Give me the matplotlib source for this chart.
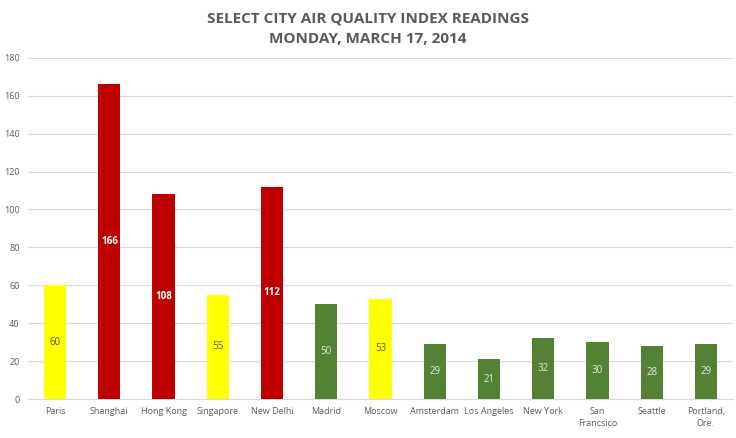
import matplotlib.pyplot as plt
import numpy as np

# ── Data ──────────────────────────────────────────────────────────────
cities = ["Paris", "Shanghai", "Hong Kong", "Singapore", "New Delhi", "Madrid",
          "Moscow", "Amsterdam", "Los Angeles", "New York", "San\nFrancsico",
          "Seattle", "Portland,\nOre."]
aqi = [60, 166, 108, 55, 112, 50, 53, 29, 21, 32, 30, 28, 29]
level = ["mod", "bad", "bad", "mod", "bad", "good", "mod",
         "good", "good", "good", "good", "good", "good"]

# ── Style ─────────────────────────────────────────────────────────────
C_BAR = {"good": "#548235", "mod": "#FFFF00", "bad": "#C00000"}
C_LBL = {"good": "#E8E8E8", "mod": "#595959", "bad": "white"}
C_TEXT = "#595959"
C_GRID = "#D9D9D9"
plt.rcParams["font.family"] = ["Open Sans", "DejaVu Sans"]

fig = plt.figure(figsize=(7.36, 4.38), dpi=100)
ax = fig.add_axes([0.038, 0.089, 0.958, 0.779])

x = np.arange(len(cities))
bars = ax.bar(x, aqi, 0.41, color=[C_BAR[l] for l in level], zorder=3)
for bar, v, l in zip(bars, aqi, level):
    ax.text(bar.get_x() + bar.get_width() / 2, v / 2, str(v), ha="center",
            va="center", fontsize=7, color=C_LBL[l],
            fontweight="bold" if l == "bad" else "normal", zorder=4)

ax.set_xlim(-0.5, len(cities) - 0.5)
ax.set_ylim(0, 180)
ax.set_yticks(range(0, 181, 20))
ax.set_xticks(x)
ax.set_xticklabels(cities, fontsize=6.5, color=C_TEXT, linespacing=1.4)
ax.tick_params(axis="y", labelsize=6.5, colors=C_TEXT, length=0, pad=6)
ax.tick_params(axis="x", length=0, pad=6)
ax.yaxis.grid(True, color=C_GRID, linewidth=0.8, zorder=0)
for s in ["top", "right", "left"]:
    ax.spines[s].set_visible(False)
ax.spines["bottom"].set_color(C_GRID)

fig.text(0.5, 0.957, "SELECT CITY AIR QUALITY INDEX READINGS", ha="center",
         va="center", fontsize=11, fontweight="bold", color=C_TEXT)
fig.text(0.5, 0.912, "MONDAY, MARCH 17, 2014", ha="center",
         va="center", fontsize=11, fontweight="bold", color=C_TEXT)

fig.savefig("out.png", dpi=100, facecolor="white")
